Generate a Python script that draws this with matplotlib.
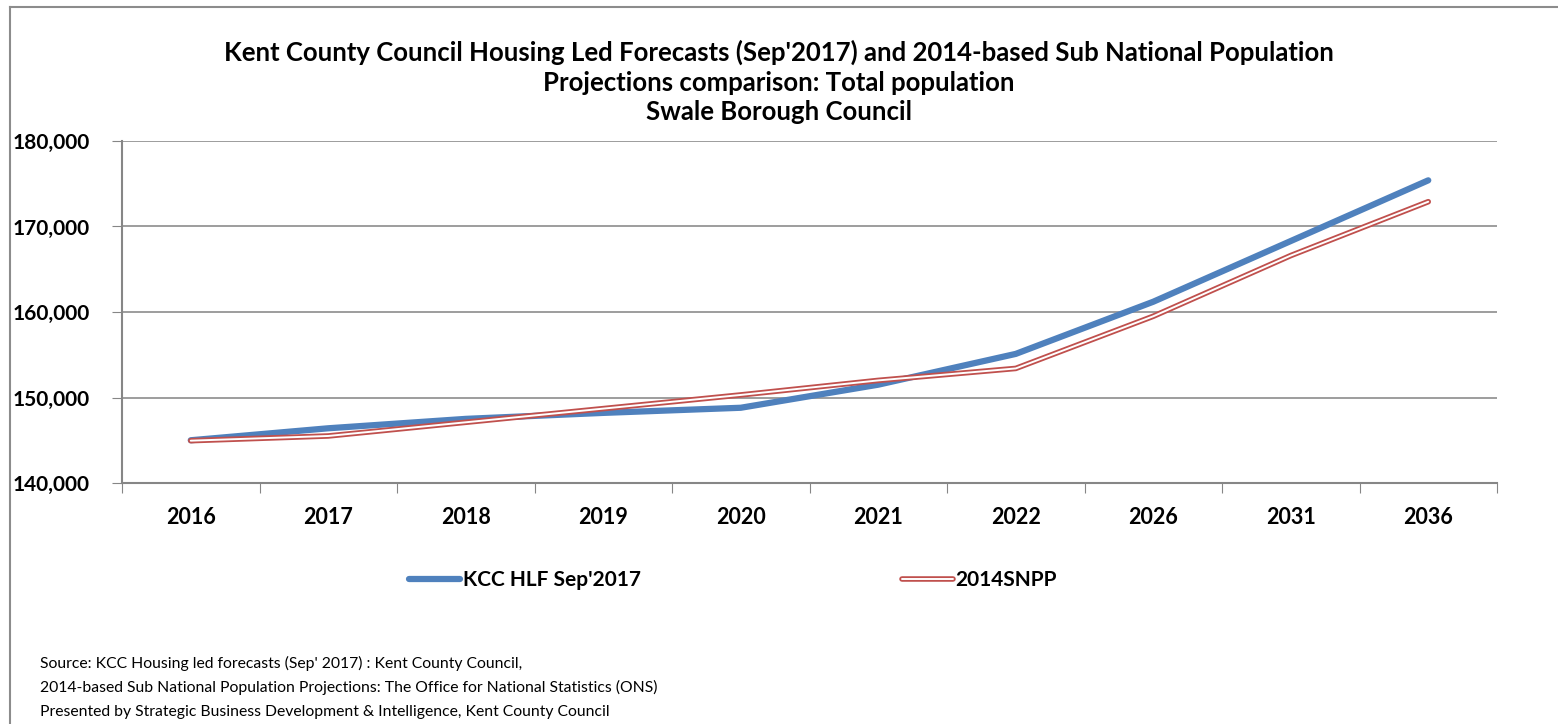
import matplotlib.pyplot as plt
import matplotlib.patheffects as pe
from matplotlib.lines import Line2D
import numpy as np

years = ['2016', '2017', '2018', '2019', '2020', '2021', '2022', '2026', '2031', '2036']
kcc_hlf = [145000, 146400, 147500, 148200, 148800, 151500, 155100, 161200, 168300, 175400]
snpp_2014 = [144950, 145500, 147100, 148700, 150300, 152000, 153400, 159500, 166600, 172900]

title = ("Kent County Council Housing Led Forecasts (Sep'2017) and 2014-based Sub National Population\n"
         "Projections comparison: Total population\n"
         "Swale Borough Council")
source_lines = [
    "Source: KCC Housing led forecasts (Sep' 2017) : Kent County Council,",
    "2014-based Sub National Population Projections: The Office for National Statistics (ONS)",
    "Presented by Strategic Business Development & Intelligence, Kent County Council",
]

W, H = 1558, 724
plt.rcParams['font.family'] = ['Lato', 'DejaVu Sans']

fig = plt.figure(figsize=(W / 100, H / 100), dpi=100)
ax = fig.add_axes([122 / W, 1 - 483 / H, (1497 - 122) / W, (483 - 141) / H])

x = np.arange(len(years))
ax.plot(x, kcc_hlf, color='#4F81BD', lw=4.5, solid_capstyle='round',
        label="KCC HLF Sep'2017", zorder=3)
ax.plot(x, snpp_2014, color='white', lw=1.4, solid_capstyle='round', label='2014SNPP', zorder=4,
        path_effects=[pe.Stroke(linewidth=4.0, foreground='#C0504D'), pe.Normal()])

ax.set_xlim(-0.5, len(years) - 0.5)
ax.set_ylim(140000, 180000)
ax.set_yticks(np.arange(140000, 180001, 10000))
ax.set_yticklabels([f'{v:,}' for v in range(140000, 180001, 10000)], fontweight='bold', fontsize=15)
ax.set_xticks(np.arange(len(years) + 1) - 0.5)
ax.set_xticklabels([])
ax.set_xticks(x, minor=True)
ax.set_xticklabels(years, minor=True, fontweight='bold', fontsize=15.5)
ax.tick_params(axis='x', which='major', length=7, color='#868686', direction='out')
ax.tick_params(axis='x', which='minor', length=0, pad=17)
ax.tick_params(axis='y', length=7, color='#868686', direction='out', pad=16.5)

ax.grid(axis='y', color='#8c8c8c', lw=1.2)
ax.set_axisbelow(True)
for s in ['top', 'right']:
    ax.spines[s].set_visible(False)
for s in ['left', 'bottom']:
    ax.spines[s].set_color('#868686')
    ax.spines[s].set_linewidth(1.5)

fig.text(779 / W, 1 - 82 / H, title, ha='center', va='center', ma='center',
         fontsize=18.5, fontweight='bold', linespacing=1.27)

fig.legend(loc='center left', bbox_to_anchor=(409 / W, 1 - 580 / H), ncol=2,
           frameon=False, borderpad=0, borderaxespad=0, handlelength=2.45,
           handletextpad=0.15, columnspacing=12.5, prop={'weight': 'bold', 'size': 15})

for i, line in enumerate(source_lines):
    fig.text(40 / W, 1 - (663 + 24.5 * i) / H, line, ha='left', va='center', fontsize=11.3)

fig.add_artist(Line2D([10 / W, 1], [1 - 7 / H, 1 - 7 / H], color='#8c8c8c', lw=1.5))
fig.add_artist(Line2D([10 / W, 10 / W], [1 - 7 / H, 0], color='#8c8c8c', lw=1.5))

fig.savefig('out.png', dpi=100)
